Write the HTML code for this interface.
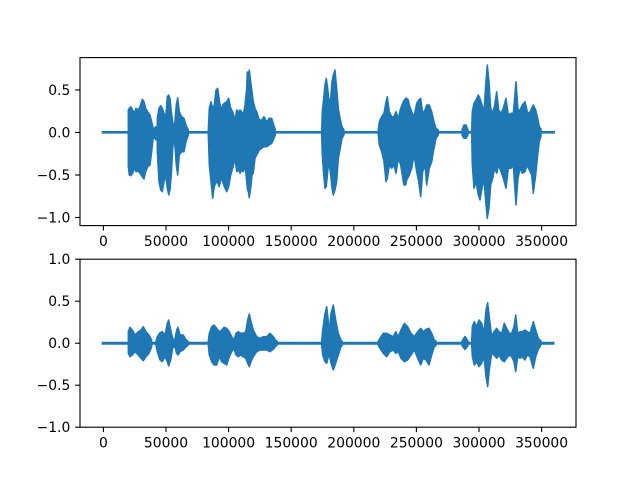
<!DOCTYPE html>
<html>
<head>
<meta charset="utf-8">
<style>
html,body{margin:0;padding:0;background:#fff;}
svg{display:block;}
text{font-family:"DejaVu Sans","Liberation Sans",sans-serif;font-size:13.9px;fill:#000;}
</style>
</head>
<body>
<svg width="640" height="480" viewBox="0 0 640 480" xmlns="http://www.w3.org/2000/svg">
<rect x="0" y="0" width="640" height="480" fill="#fff"/>

<!-- ===== TOP AXES ===== -->
<g fill="#1f77b4" stroke="#1f77b4" stroke-width="1.5" stroke-linejoin="round">
<line x1="101.7" y1="132.3" x2="555" y2="132.3" stroke-width="2.7"/>
<polygon points="128.3,110 129.3,108.3 130.7,106.7 132.7,110 134.3,113.3 136,108.3 138.3,110 140,106.7 142.3,99.3 144,101.7 145.7,108.3 147.7,111.7 150,115 151.7,121.7 153.3,129 156,126.7 156,140 153.3,136.7 151.7,151.7 150,165 147.7,166.7 145.7,171.7 144,179 142.3,176.7 140,173.3 138.3,171 136,171.7 134.3,168.3 132.7,173.3 130.7,175.7 129.3,175 128.3,166.7"/>
<polygon points="157.3,118.3 159,108.3 160.7,105.7 162.3,108.3 164,113.3 165.7,118.3 167.3,96.7 168.7,95 170,98.3 171.3,111.7 172.7,121.7 174.3,129 176.3,105 177.7,97.7 179.3,111.7 181.7,116.7 184,118.3 186,125 188.3,130 188.3,135 186,141.7 184,151.7 181.7,151.7 179.3,155 177.7,175 176.3,165 174.3,136.7 172.7,148.3 171.3,175 170,190 168.7,195 167.3,188.3 165.7,175 164,181.7 162.3,191.7 160.7,190 159,181.7 157.3,151.7"/>
<polygon points="208.3,130 209.3,108.3 211,101.7 212.7,108.3 214.3,105 216,90 217.7,88.3 219.3,100 221,110 222.7,105 224.3,103.3 226.7,101.7 228.7,98.3 230.7,108.3 232.7,111.7 235,120 236.7,110 239,111.7 240,110 241.7,111.7 243.3,115 245,105 246.7,88.3 247.3,72 248.3,75 249.3,70 250.7,81.7 252,91.7 253.3,101.7 255,108.3 256.7,111.7 259.3,120 261.7,120 264,116.7 266.7,121.7 269.3,118.3 271.7,118.3 273.3,123.3 275.3,130 275.3,135 273.3,140 271.7,143.3 269.3,145 266.7,146.7 264,146.7 261.7,148.3 259.3,150 256.7,155 255,158.3 253.3,173.3 252,175 250.7,188.3 249.3,197.7 248.3,191.7 247.3,188.3 246.7,181.7 245,165 243.3,171.7 241.7,170 240,173.3 239,170 236.7,171.7 235,158.3 232.7,168.3 230.7,175 228.7,186.7 226.7,191.7 224.3,186.7 222.7,181.7 221,178.3 219.3,186.7 217.7,183.3 216,181.7 214.3,186.7 212.7,198.3 211,181.7 209.3,165 208.3,135"/>
<polygon points="321.7,130 322.3,111.7 323.7,98.3 325,85 326.3,78.3 327.7,88.3 329,101.7 330.7,98.3 332,81.7 333.3,75 335,70 336.7,88.3 338.3,108.3 340,118.3 342,126.7 344,130 344,135 342,138.3 340,150 338.3,158.3 336.7,181.7 335,190 333.3,195 332,188.3 330.7,175 329,161.7 327.7,171.7 326.3,186.7 325,188.3 323.7,175 322.3,155 321.7,135"/>
<polygon points="378.3,130 379.3,121.7 381.7,116.7 384,113.3 386,101.7 387.3,96.7 389.3,111.7 391.7,116.7 394,116.7 396,111.7 398.3,118.3 400.7,108.3 403.3,101.7 405.7,98.3 406.7,98.3 408.3,100 409.3,105 411.7,111.7 414,116.7 416.7,103.3 418.7,100 420.7,98.3 422.7,113.3 425,110 426.7,105 429.3,105 431.7,111.7 434,121.7 436,128.3 438.3,130 438.3,135 436,138.3 434,148.3 431.7,161.7 429.3,168.3 426.7,185 425,165 422.7,171.7 420.7,196.7 418.7,181.7 416.7,171.7 414,155 411.7,168.3 409.3,175 406.7,180 405.7,185 404,185 403.3,181.7 400.7,165 398.3,158.3 396,173.3 394,165 391.7,168.3 389.3,165 387.3,178.3 386,181.7 384,161.7 381.7,151.7 379.3,145 378.3,135"/>
<polygon points="462,130 464,125 466,125 468,130 468,135 466,138.3 464,138.3 462,135"/>
<polygon points="471.7,130 472.3,111.7 474,103.3 476,100 478.3,95 480,98.3 482,105 484,111.7 485.7,85 487.3,65 489,81.7 490.7,108.3 492.7,113.3 494.7,105 496.7,91.7 498.7,110 501,113.3 503.3,108.3 506,98.3 508.3,115 511,113.3 513.3,113.3 516,81.7 518,110 520,110 522.3,105 525,101.7 527.3,111.7 529.3,113.3 531.7,108.3 533.3,105 535.7,110 537.7,118.3 539.3,126.7 541,129 541,136 539.3,141.7 537.7,155 535.7,175 533.3,193.3 531.7,175 529.3,170 527.3,165 525,171.7 522.3,173.3 520,168.3 518,178.3 516,205 513.3,165 511,168.3 508.3,168.3 506,188.3 503.3,178.3 501,171.7 498.7,165 496.7,173.3 494.7,168.3 492.7,178.3 490.7,185 489,208.3 487.3,218.3 485.7,201.7 484,178.3 482,188.3 480,200 478.3,195 476,181.7 474,188.3 472.3,165 471.7,135"/>
</g>

<rect x="80" y="57.6" width="496" height="168" fill="none" stroke="#000" stroke-width="1.11"/>

<!-- top x ticks -->
<g stroke="#000" stroke-width="1.11">
<line x1="103.4" y1="225.6" x2="103.4" y2="230.5"/>
<line x1="166" y1="225.6" x2="166" y2="230.5"/>
<line x1="228.6" y1="225.6" x2="228.6" y2="230.5"/>
<line x1="291.2" y1="225.6" x2="291.2" y2="230.5"/>
<line x1="353.8" y1="225.6" x2="353.8" y2="230.5"/>
<line x1="416.4" y1="225.6" x2="416.4" y2="230.5"/>
<line x1="479" y1="225.6" x2="479" y2="230.5"/>
<line x1="541.6" y1="225.6" x2="541.6" y2="230.5"/>
<line x1="75.1" y1="90" x2="80" y2="90"/>
<line x1="75.1" y1="132.5" x2="80" y2="132.5"/>
<line x1="75.1" y1="175" x2="80" y2="175"/>
<line x1="75.1" y1="217.5" x2="80" y2="217.5"/>
</g>
<g text-anchor="middle">
<text x="103.4" y="246">0</text>
<text x="166" y="246">50000</text>
<text x="228.6" y="246">100000</text>
<text x="291.2" y="246">150000</text>
<text x="353.8" y="246">200000</text>
<text x="416.4" y="246">250000</text>
<text x="479" y="246">300000</text>
<text x="541.6" y="246">350000</text>
</g>
<g text-anchor="end">
<text x="70.3" y="95">0.5</text>
<text x="70.3" y="137.5">0.0</text>
<text x="70.3" y="180">−0.5</text>
<text x="70.3" y="222.5">−1.0</text>
</g>

<!-- ===== BOTTOM AXES ===== -->
<g fill="#1f77b4" stroke="#1f77b4" stroke-width="1.5" stroke-linejoin="round">
<line x1="101.7" y1="343.2" x2="554.5" y2="343.2" stroke-width="3"/>
<polygon points="128.3,331.7 130,327.3 132.3,330 135,335 138.3,331.7 141,330 143.3,326.7 146,331.7 149,335 151.7,340 151.7,346.7 149,353.3 146,356.7 143.3,360.7 141,358.3 138.3,355 135,351.7 132.3,355 130,356.7 128.3,353.3"/>
<polygon points="156,341 157.3,336.7 160,332.7 162.3,331.7 165,335 167.3,323.3 168.7,320 170.7,330 172.7,338.3 174.5,341 176.7,330 178,327.3 180,335 183.3,335 186,340 188,341 188,345.5 186,346.7 183.3,350 180,351.7 178,355 176.7,353.3 174.5,345.5 172.7,348.3 170.7,360 168.7,366 167.3,361.7 165,356.7 162.3,361.7 160,360 157.3,351.7 156,345.5"/>
<polygon points="208.3,341 209.3,333.3 211.7,326.7 214,325 216.7,328.3 219.3,331.7 221.7,330 224,327.3 226.7,328.3 229.3,331.7 231.7,336.7 234,340 236,333.3 238.3,331.7 240.7,333.3 243.3,333.3 245.7,331.7 247.7,320 249.3,314 251,321.7 253.3,330 256.7,336.7 260,338.3 263.3,336.7 266.7,336.7 270,333.3 273.3,336.7 276,340.7 277,341 277,345.5 276,346 273.3,349.3 270,351.7 266.7,350 263.3,350 260,350 256.7,351.7 253.3,356.7 251,361.7 249.3,366.7 247.7,363.3 245.7,358.3 243.3,356.7 240.7,355 238.3,356.7 236,355 234,348.3 231.7,351.7 229.3,356.7 226.7,365 224,363.3 221.7,361.7 219.3,356.7 216.7,365 214,365 211.7,361.7 209.3,355 208.3,345.5"/>
<polygon points="321.7,341 322.7,330 325,313.3 326.7,306.7 328,318 329,333.3 331,313.3 333.3,305 335.7,320 338.3,333.3 341,340 342,341 342,345.5 341,346.7 338.3,355 335.7,363.3 333.3,370 331,363.3 329,353.3 328,358 326.7,363.3 325,361.7 322.7,355 321.7,345.5"/>
<polygon points="378.3,341 380,338.3 383.3,333.3 386.7,333.3 390,335 393.3,336.7 395.7,331.7 398.3,336.7 401,330 404.3,323.3 407.7,326.7 411,333.3 414.3,336.7 417.7,331.7 420.7,328.3 423.3,331.7 426,329.3 429,328.3 431.7,333.3 434.3,340 436,341 436,345.5 434.3,346.7 431.7,355 429,365 426,360 423.3,358.3 420.7,365 417.7,358.3 414.3,350 411,355 407.7,360 404.3,361.7 401,358.3 398.3,351.7 395.7,353.3 393.3,350 390,351.7 386.7,356.7 383.3,353.3 380,348.3 378.3,345.5"/>
<polygon points="462,341 465,336.5 468,341 468,345.5 465,349.5 462,345.5"/>
<polygon points="471.7,341 472.3,326.7 474.3,321.7 476.7,326.7 479,320 481.7,323.3 484,333.3 486,310 487.7,302.7 489.3,316.7 491.7,336.7 494,331.7 496.7,328.3 499,331.7 501.7,333.3 504.3,323.3 506.7,328.3 509.3,333.3 511.7,333.3 514,326.7 515.7,315 517.7,333.3 520,331.7 522.3,331.7 525,330 527.3,331.7 530,333.3 533.3,321.7 535.7,330 538.3,338.3 541,341 541,345 538.3,349.3 535.7,356.7 533.3,368.3 530,356.7 527.3,355 525,360 522.3,356.7 520,358.3 517.7,356.7 515.7,371.7 514,361.7 511.7,356.7 509.3,355 506.7,358.3 504.3,361.7 501.7,360 499,355 496.7,358.3 494,355 491.7,353.3 489.3,370 487.7,386.7 486,376.7 484,356.7 481.7,363.3 479,366.7 476.7,361.7 474.3,365 472.3,356.7 471.7,345.5"/>
</g>

<rect x="80" y="259.2" width="496" height="168" fill="none" stroke="#000" stroke-width="1.11"/>

<g stroke="#000" stroke-width="1.11">
<line x1="103.4" y1="427.2" x2="103.4" y2="432.1"/>
<line x1="166" y1="427.2" x2="166" y2="432.1"/>
<line x1="228.6" y1="427.2" x2="228.6" y2="432.1"/>
<line x1="291.2" y1="427.2" x2="291.2" y2="432.1"/>
<line x1="353.8" y1="427.2" x2="353.8" y2="432.1"/>
<line x1="416.4" y1="427.2" x2="416.4" y2="432.1"/>
<line x1="479" y1="427.2" x2="479" y2="432.1"/>
<line x1="541.6" y1="427.2" x2="541.6" y2="432.1"/>
<line x1="75.1" y1="259.2" x2="80" y2="259.2"/>
<line x1="75.1" y1="301.2" x2="80" y2="301.2"/>
<line x1="75.1" y1="343.2" x2="80" y2="343.2"/>
<line x1="75.1" y1="385.2" x2="80" y2="385.2"/>
<line x1="75.1" y1="427.2" x2="80" y2="427.2"/>
</g>
<g text-anchor="middle">
<text x="103.4" y="447.6">0</text>
<text x="166" y="447.6">50000</text>
<text x="228.6" y="447.6">100000</text>
<text x="291.2" y="447.6">150000</text>
<text x="353.8" y="447.6">200000</text>
<text x="416.4" y="447.6">250000</text>
<text x="479" y="447.6">300000</text>
<text x="541.6" y="447.6">350000</text>
</g>
<g text-anchor="end">
<text x="70.3" y="264.2">1.0</text>
<text x="70.3" y="306.2">0.5</text>
<text x="70.3" y="348.2">0.0</text>
<text x="70.3" y="390.2">−0.5</text>
<text x="70.3" y="432.2">−1.0</text>
</g>
</svg>
</body>
</html>
